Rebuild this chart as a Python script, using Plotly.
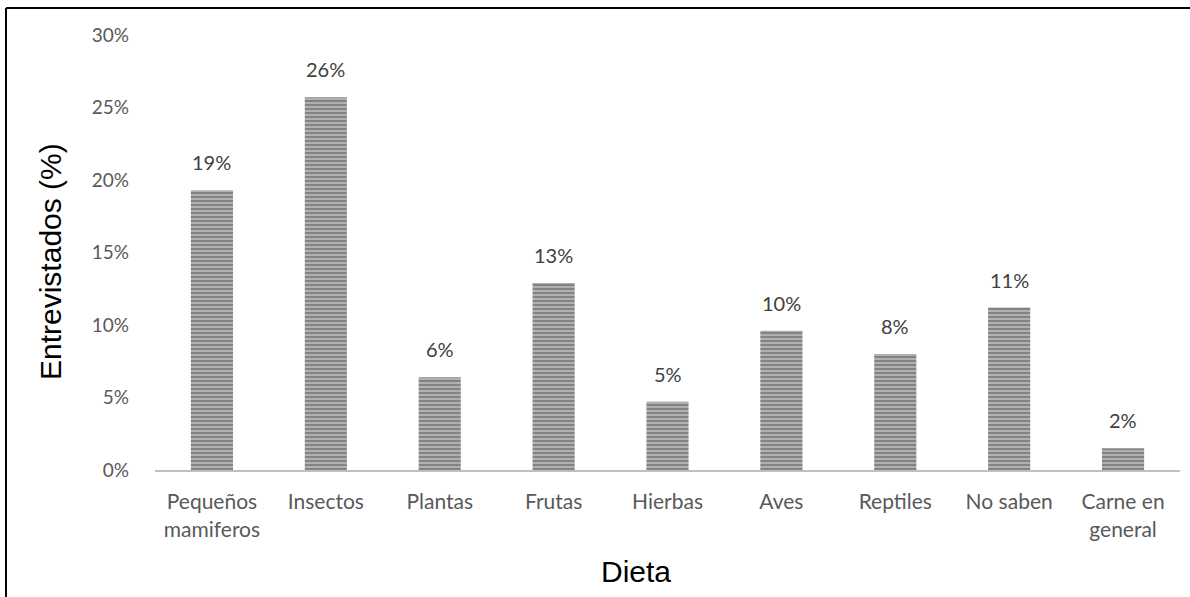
import plotly.graph_objects as go

categorias = ["Pequeños<br>mamiferos", "Insectos", "Plantas", "Frutas", "Hierbas",
              "Aves", "Reptiles", "No saben", "Carne en<br>general"]
porcentajes = [19.3, 25.7, 6.4, 12.9, 4.7, 9.6, 8.0, 11.2, 1.5]
etiquetas = ["19%", "26%", "6%", "13%", "5%", "10%", "8%", "11%", "2%"]
ytick_vals = [0, 5, 10, 15, 20, 25, 30]
ytick_text = ["0%", "5%", "10%", "15%", "20%", "25%", "30%"]

W, H = 1190, 597
L, R, T, B = 155, 10, 35, 127
PW, PH = W - L - R, H - T - B

def px_x(x):
    return (x - L) / PW

def px_y(y):
    return (H - B - y) / PH

fig = go.Figure(go.Bar(
    x=categorias, y=porcentajes,
    marker=dict(color="#a6a6a6", line=dict(width=0),
                pattern=dict(shape="-", fgcolor="#4a4a4a", bgcolor="#b0b0b0",
                             size=4, solidity=0.45)),
    hoverinfo="x+y",
))

annotations = [
    dict(x=c, y=v, text=t, xref="x", yref="y", showarrow=False,
         yanchor="bottom", yshift=14,
         font=dict(family="Lato", size=20, color="#404040"))
    for c, v, t in zip(categorias, porcentajes, etiquetas)
]
annotations += [
    dict(text="Entrevistados (%)", xref="paper", yref="paper",
         x=px_x(50), y=px_y(262), xanchor="center", yanchor="middle",
         textangle=-90, showarrow=False,
         font=dict(family="Liberation Sans", size=30, color="black")),
    dict(text="Dieta", xref="paper", yref="paper",
         x=px_x(636), y=px_y(571), xanchor="center", yanchor="middle",
         showarrow=False,
         font=dict(family="Liberation Sans", size=30, color="black")),
]

fig.update_layout(
    width=W, height=H, margin=dict(l=L, r=R, t=T, b=B),
    paper_bgcolor="white", plot_bgcolor="white",
    bargap=0.63, showlegend=False,
    xaxis=dict(showline=True, linecolor="#bfbfbf", linewidth=2, ticks="",
               tickfont=dict(family="Lato", size=21, color="#595959"),
               ticklabelstandoff=12),
    yaxis=dict(range=[0, 30], tickvals=ytick_vals, ticktext=ytick_text,
               showgrid=False, zeroline=False, showline=False,
               tickfont=dict(family="Lato", size=19, color="#595959"),
               ticklabelstandoff=25),
    annotations=annotations,
    shapes=[
        dict(type="line", xref="paper", yref="paper",
             x0=px_x(6), x1=px_x(6), y0=px_y(8), y1=px_y(600),
             line=dict(color="black", width=2)),
        dict(type="line", xref="paper", yref="paper",
             x0=px_x(6), x1=px_x(1195), y0=px_y(8), y1=px_y(8),
             line=dict(color="black", width=2)),
    ],
)

fig.write_html("out.html")
